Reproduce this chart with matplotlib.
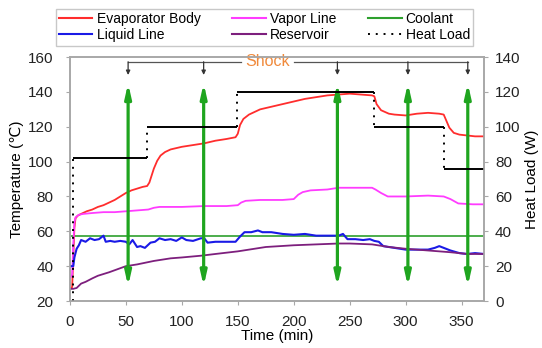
import numpy as np
import matplotlib.pyplot as plt
from matplotlib.lines import Line2D

plt.rcParams['font.family'] = ['Liberation Sans', 'DejaVu Sans']

# --- data (time in min, temperature in C) ---
t_evap = [0, 2, 3, 4, 5, 7, 10, 15, 20, 25, 30, 35, 40, 45, 50, 55, 60, 65, 69,
          71, 73, 75, 78, 81, 85, 90, 100, 110, 120, 130, 140, 148, 150, 152,
          155, 160, 165, 170, 180, 190, 200, 210, 220, 230, 240, 250, 260, 270,
          272, 274, 278, 285, 290, 300, 310, 320, 330, 334, 336, 339, 343, 348,
          355, 362, 370]
evap = [27, 28, 45, 62, 67.5, 69, 70, 71.5, 72.5, 74, 75, 76.5, 78, 80, 82, 83.5,
        84.5, 85.5, 86, 88, 92, 96, 100.5, 103.5, 105.5, 107, 108.5, 109.5, 110.5,
        112, 113, 114, 116, 121, 124.5, 127, 128.5, 130, 131.5, 133, 134.5, 136,
        137, 138, 138.5, 139, 138.5, 138, 137.5, 133, 129.5, 127.5, 127, 126.5,
        127.5, 128, 127.5, 127, 124, 119.5, 116.5, 115.5, 115, 114.5, 114.5]

t_vapor = [0, 2, 3, 4, 5, 8, 12, 20, 30, 40, 50, 60, 70, 75, 80, 100, 120, 140,
           150, 153, 157, 170, 190, 200, 204, 208, 215, 230, 240, 250, 260, 270,
           273, 278, 284, 300, 320, 334, 340, 347, 360, 370]
vapor = [33, 35, 52, 65, 68, 69.5, 70, 70.5, 71, 71, 71.5, 72, 72.5, 73.5, 74,
         74, 74.5, 74.5, 75, 76.5, 77.5, 78, 78, 78.5, 81, 82.5, 83.5, 84, 85,
         85, 85, 85, 84, 82, 80, 80, 80.5, 80, 78.5, 76, 75.5, 75.5]

t_liquid = [0, 3, 4, 6, 8, 10, 14, 18, 22, 26, 30, 32, 36, 40, 45, 50, 53, 56,
            60, 63, 67, 72, 76, 80, 85, 90, 95, 100, 104, 110, 117, 120, 123,
            130, 140, 148, 152, 156, 162, 168, 172, 180, 190, 200, 210, 220, 230,
            240, 244, 248, 255, 262, 268, 272, 276, 280, 290, 300, 310, 320,
            326, 330, 334, 340, 348, 355, 362, 370]
liquid = [40, 40, 45, 50, 52, 55, 54, 56, 55, 55.5, 57.5, 54, 54.5, 54, 54.5, 54,
          52.5, 55, 51, 51.5, 50.5, 53.5, 54, 56, 55, 55.5, 54.5, 56.5, 55, 54.5,
          56, 56, 53.5, 54, 54, 54, 57, 59.5, 59.5, 60.5, 59.5, 59.5, 58.5, 58,
          58.5, 57.5, 57.5, 57.5, 58.5, 55.5, 55.5, 55, 55.5, 54.5, 54, 51.5,
          50.5, 49.5, 49.5, 49.5, 50.5, 51.5, 50.5, 49, 47.5, 47, 47.5, 47]

t_reservoir = [0, 3, 6, 10, 14, 20, 25, 35, 50, 60, 75, 90, 100, 117, 130, 150,
               160, 175, 200, 220, 240, 250, 270, 285, 300, 320, 340, 355, 370]
reservoir = [27, 27, 27.5, 30, 31, 33, 34.5, 36.5, 40, 41, 43, 44.5, 45, 46, 47,
             48.5, 49.5, 51, 52, 52.5, 53, 53, 52.5, 51, 50, 49, 48, 47, 47]

coolant = 57.2

# heat load steps (W): level i holds from hl_t[i] to hl_t[i+1]
hl_t = [3, 69, 149, 272, 334, 370]
hl_w = [82, 100, 120, 100, 76]

# shock instants (min)
shock_t = [52, 119.5, 239, 302, 355.5]

xticks = [0, 50, 100, 150, 200, 250, 300, 350]
yticks_left = [20, 40, 60, 80, 100, 120, 140, 160]
yticks_right = [0, 20, 40, 60, 80, 100, 120, 140]

c_evap = '#ff2d2d'
c_vapor = '#ff3cff'
c_liquid = '#1a1ae6'
c_res = '#7d1f7d'
c_cool = '#2ea02e'
c_arrow = '#1fa51f'
gray = '#a8a8a8'

fig = plt.figure(figsize=(5.42, 3.48), dpi=100)
ax = fig.add_axes([0.129, 0.135, 0.764, 0.701])
ax2 = ax.twinx()

ax.plot(t_evap, evap, color=c_evap, lw=1.3, zorder=3)
ax.plot(t_vapor, vapor, color=c_vapor, lw=1.3, zorder=3)
ax.plot(t_liquid, liquid, color=c_liquid, lw=1.5, zorder=3)
ax.plot(t_reservoir, reservoir, color=c_res, lw=1.3, zorder=3)
ax.axhline(coolant, color=c_cool, lw=1.2, zorder=2)

# heat load: solid levels, dotted risers
ax2.hlines(hl_w, hl_t[:-1], hl_t[1:], color='black', lw=1.4)
risers_lo = [0] + hl_w[:-1]
ax2.vlines(hl_t[:-1], risers_lo, hl_w, color='black', lw=1.4,
           linestyles=(0, (1, 3)))

# green double arrows (shock)
for ts in shock_t:
    ax.annotate('', xy=(ts, 28.5), xytext=(ts, 145), zorder=5,
                arrowprops=dict(arrowstyle='<|-|>,head_length=0.8,head_width=0.18',
                                color=c_arrow, lw=2.3, shrinkA=0, shrinkB=0))

# bracket above arrows
bracket_y = 157.3
ax.plot([shock_t[0], 153], [bracket_y, bracket_y], color='#555555', lw=0.9)
ax.plot([200, shock_t[-1]], [bracket_y, bracket_y], color='#555555', lw=0.9)
for ts in shock_t:
    ax.annotate('', xy=(ts, 149.7), xytext=(ts, bracket_y),
                arrowprops=dict(arrowstyle='-|>,head_length=0.25,head_width=0.12',
                                color='#333333', lw=0.9, shrinkA=0, shrinkB=0))
ax.text(176.5, bracket_y, 'Shock', color='#f08a3c', fontsize=11.5,
        ha='center', va='center')

ax.set_xlim(0, 370)
ax.set_ylim(20, 160)
ax2.set_ylim(0, 140)
ax.set_xticks(xticks)
ax.set_yticks(yticks_left)
ax2.set_yticks(yticks_right)

for a in (ax, ax2):
    for s in a.spines.values():
        s.set_color(gray)
        s.set_linewidth(1.2)
    a.tick_params(colors=gray, labelcolor='#222222', labelsize=11,
                  length=3, width=0.8)
ax.tick_params(axis='y', pad=9)
ax.tick_params(axis='x', pad=7)
ax2.tick_params(axis='y', pad=5)

ax.set_xlabel('Time (min)', fontsize=11, labelpad=0)
ax.set_ylabel('Temperature (\u2103)', fontsize=11, labelpad=3)
ax2.set_ylabel('Heat Load (W)', fontsize=11, labelpad=3)

handles = [
    Line2D([], [], color=c_evap, lw=1.5),
    Line2D([], [], color=c_liquid, lw=1.5),
    Line2D([], [], color=c_vapor, lw=1.5),
    Line2D([], [], color=c_res, lw=1.5),
    Line2D([], [], color=c_cool, lw=1.5),
    Line2D([], [], color='black', lw=1.4, linestyle=(0, (1, 3))),
]
labels = ['Evaporator Body', 'Liquid Line', 'Vapor Line', 'Reservoir',
          'Coolant', 'Heat Load']
leg = fig.legend(handles, labels, ncol=3, loc='upper center',
                 bbox_to_anchor=(0.488, 0.995), fontsize=10, frameon=True,
                 fancybox=False, edgecolor='#bbbbbb', handlelength=2.4,
                 handletextpad=0.3, columnspacing=2.3, labelspacing=0.15,
                 borderpad=0.25)
leg.get_frame().set_linewidth(1.0)

fig.savefig('out.png', dpi=100)
